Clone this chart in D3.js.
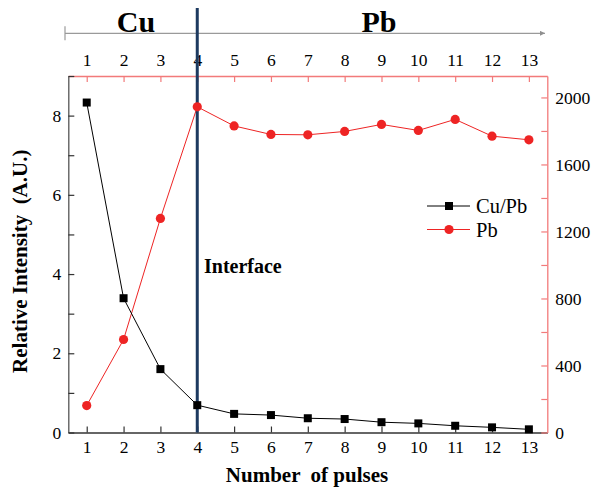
<!DOCTYPE html>
<html>
<head>
<meta charset="utf-8">
<script src="https://cdn.jsdelivr.net/npm/d3@7"></script>
<style>
  body { margin: 0; background: #fff; }
  svg { display: block; font-family: "Liberation Serif", "Times New Roman", serif; }
</style>
</head>
<body>
<svg id="chart" width="592" height="492"></svg>
<script>
const pulses = [1, 2, 3, 4, 5, 6, 7, 8, 9, 10, 11, 12, 13]
const cuPb = [8.33, 3.39, 1.60, 0.69, 0.47, 0.44, 0.36, 0.34, 0.26, 0.23, 0.17, 0.13, 0.08]
const pb = [161, 555, 1278, 1944, 1830, 1779, 1777, 1797, 1839, 1803, 1869, 1769, 1747]
const leftTicks = [0, 1, 2, 3, 4, 5, 6, 7, 8, 9]
const rightTicks = [0, 200, 400, 600, 800, 1000, 1200, 1400, 1600, 1800, 2000]
const interfaceAt = 4

const plotLeft = 68.3, plotRight = 547.3, plotTop = 76, plotBottom = 432.5
const serif = "Liberation Serif, Times New Roman, serif"
const redAxis = "#f27a7a"
const redMark = "#ee2424"

const svg = d3.select("#chart")

const x = d3.scaleLinear().domain([0.5, 13.5]).range([plotLeft, plotRight])
const yL = d3.scaleLinear().domain([0, 9]).range([plotBottom, plotTop])
const yR = d3.scaleLinear().domain([0, 2128]).range([plotBottom, plotTop])

// region arrow on top
const arrowY = 33.3
svg.append("defs").append("marker")
  .attr("id", "head")
  .attr("viewBox", "0 0 10 10")
  .attr("refX", 10).attr("refY", 5)
  .attr("markerWidth", 10).attr("markerHeight", 5)
  .attr("markerUnits", "userSpaceOnUse")
  .attr("orient", "auto")
  .append("path").attr("d", "M0,0L10,5L0,10Z").attr("fill", "#8f8f8f")
svg.append("line")
  .attr("x1", 65).attr("x2", 545).attr("y1", arrowY).attr("y2", arrowY)
  .attr("stroke", "#9a9a9a").attr("stroke-width", 1.2)
  .attr("marker-end", "url(#head)")
svg.append("line")
  .attr("x1", 65).attr("x2", 65).attr("y1", arrowY - 7).attr("y2", arrowY + 7)
  .attr("stroke", "#9a9a9a").attr("stroke-width", 1.2)

svg.append("text").attr("x", 136).attr("y", 31.5).attr("text-anchor", "middle")
  .attr("font-size", 30).attr("font-weight", "bold").text("Cu")
svg.append("text").attr("x", 379).attr("y", 31.5).attr("text-anchor", "middle")
  .attr("font-size", 30).attr("font-weight", "bold").text("Pb")

// axes
function style(g, color, lineColor) {
  g.attr("font-size", 17.5).attr("font-family", serif)
  g.select(".domain").attr("stroke", lineColor).attr("stroke-width", 1.3)
  g.selectAll(".tick line").attr("stroke", color).attr("stroke-width", 1.2)
  g.selectAll(".tick text").attr("fill", "#000")
}

svg.append("g").attr("transform", `translate(0,${plotBottom})`)
  .call(d3.axisBottom(x).tickValues(pulses).tickSizeInner(-6).tickSizeOuter(0).tickPadding(8))
  .call(g => style(g, "#333", "#333"))

svg.append("g").attr("transform", `translate(0,${plotTop})`)
  .call(d3.axisTop(x).tickValues(pulses).tickSizeInner(-6).tickSizeOuter(0).tickPadding(10))
  .call(g => style(g, redAxis, redAxis))

svg.append("g").attr("transform", `translate(${plotLeft},0)`)
  .call(d3.axisLeft(yL).tickValues(leftTicks).tickSizeInner(-6).tickSizeOuter(0).tickPadding(7)
    .tickFormat(d => d % 2 === 0 && d < 9 ? d : ""))
  .call(g => style(g, "#333", "#555"))

svg.append("g").attr("transform", `translate(${plotRight},0)`)
  .call(d3.axisRight(yR).tickValues(rightTicks).tickSizeInner(-6).tickSizeOuter(0).tickPadding(8)
    .tickFormat(d => d % 400 === 0 ? d : ""))
  .call(g => style(g, redAxis, redAxis))

// axis titles
svg.append("text")
  .attr("transform", `translate(27,${(plotTop + plotBottom) / 2 + 7}) rotate(-90)`)
  .attr("text-anchor", "middle").attr("font-size", 21).attr("font-weight", "bold")
  .attr("xml:space", "preserve")
  .text("Relative Intensity  (A.U.)")
svg.append("text")
  .attr("x", 307).attr("y", 482).attr("text-anchor", "middle")
  .attr("font-size", 21).attr("font-weight", "bold")
  .attr("xml:space", "preserve")
  .text("Number  of pulses")

// series
const lineL = d3.line().x((d, i) => x(pulses[i])).y(d => yL(d))
const lineR = d3.line().x((d, i) => x(pulses[i])).y(d => yR(d))

svg.append("path").datum(pb).attr("d", lineR)
  .attr("fill", "none").attr("stroke", redMark).attr("stroke-width", 1)
svg.append("path").datum(cuPb).attr("d", lineL)
  .attr("fill", "none").attr("stroke", "#000").attr("stroke-width", 1)

// interface line
svg.append("line")
  .attr("x1", x(interfaceAt)).attr("x2", x(interfaceAt))
  .attr("y1", 8).attr("y2", plotBottom)
  .attr("stroke", "#1d3a60").attr("stroke-width", 3)

svg.selectAll(".pb").data(pb).join("circle")
  .attr("class", "pb")
  .attr("cx", (d, i) => x(pulses[i])).attr("cy", d => yR(d))
  .attr("r", 4.6).attr("fill", redMark)

svg.selectAll(".cu").data(cuPb).join("rect")
  .attr("class", "cu")
  .attr("x", (d, i) => x(pulses[i]) - 4).attr("y", d => yL(d) - 4)
  .attr("width", 8).attr("height", 8).attr("fill", "#000")

svg.append("text").attr("x", 204).attr("y", 272.5)
  .attr("font-size", 20).attr("font-weight", "bold").text("Interface")

// legend
const legend = svg.append("g")
const items = [
  {name: "Cu/Pb", color: "#000", y: 206},
  {name: "Pb", color: redMark, y: 229.5}
]
items.forEach(it => {
  legend.append("line").attr("x1", 427).attr("x2", 470).attr("y1", it.y).attr("y2", it.y)
    .attr("stroke", it.color).attr("stroke-width", 1)
  if (it.name === "Cu/Pb") {
    legend.append("rect").attr("x", 445).attr("y", it.y - 4).attr("width", 8).attr("height", 8).attr("fill", "#000")
  } else {
    legend.append("circle").attr("cx", 449).attr("cy", it.y).attr("r", 4.6).attr("fill", redMark)
  }
  legend.append("text").attr("x", 476).attr("y", it.y + 7).attr("font-size", 20.5).text(it.name)
})
</script>
</body>
</html>
